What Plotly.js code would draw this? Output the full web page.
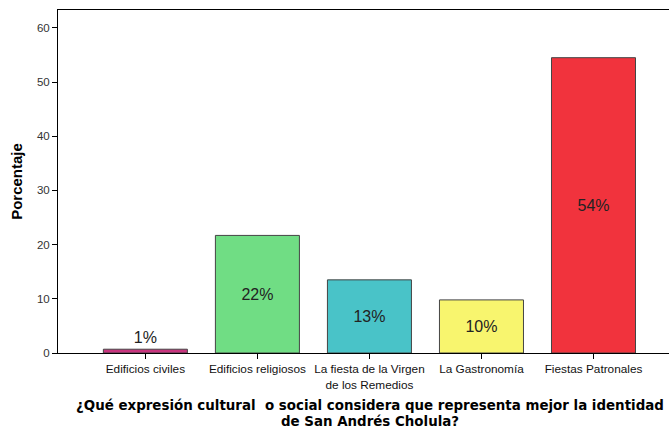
<!DOCTYPE html>
<html>
<head>
<meta charset="utf-8">
<script src="https://cdn.plot.ly/plotly-3.0.1.min.js"></script>
<style>
html,body{margin:0;padding:0;overflow:hidden;background:#fff;}
#chart{width:690px;height:429px;}
</style>
</head>
<body>
<div id="chart"></div>
<script>
const categories = ["Edificios civiles", "Edificios religiosos", "La fiesta de la Virgen<br>de los Remedios", "La Gastronomía", "Fiestas Patronales"];
const values = [0.7, 21.7, 13.5, 9.8, 54.5];
const labels = ["1%", "22%", "13%", "10%", "54%"];
const colors = ["#c8357e", "#70dd84", "#49c3c8", "#f8f56e", "#f1333d"];
const positions = ["outside", "inside", "inside", "inside", "inside"];
const xTitleLines = ["¿Qué expresión cultural  o social considera que representa mejor la identidad", "de San Andrés Cholula?"];

const trace = {
  type: "bar",
  x: categories,
  y: values,
  text: labels,
  textposition: positions,
  insidetextanchor: "middle",
  textangle: 0,
  cliponaxis: false,
  textfont: {family: "Liberation Sans, Arial, sans-serif", size: 16, color: "#222"},
  marker: {color: colors, line: {color: "#444", width: 1}},
  width: 0.75,
  hoverinfo: "none"
};

const titleFont = {family: "DejaVu Sans, Verdana, sans-serif", size: 13.4, color: "#000", weight: "bold"};
const titleY = [-0.1545, -0.1983];

const layout = {
  width: 690,
  height: 429,
  margin: {l: 58, r: 8, t: 10, b: 76},
  paper_bgcolor: "#fff",
  plot_bgcolor: "#fff",
  showlegend: false,
  bargap: 0.25,
  font: {family: "Liberation Sans, Arial, sans-serif", size: 11, color: "#000"},
  xaxis: {
    type: "category",
    range: [-0.78, 4.79],
    showline: true, linecolor: "#000", linewidth: 1, mirror: true,
    ticks: "outside", ticklen: 5, tickcolor: "#000",
    showgrid: false, zeroline: false,
    tickfont: {family: "Liberation Sans, Arial, sans-serif", size: 11.8, color: "#111"}
  },
  yaxis: {
    range: [0, 63.3],
    tickvals: [0, 10, 20, 30, 40, 50, 60],
    showline: true, linecolor: "#000", linewidth: 1, mirror: true,
    ticks: "outside", ticklen: 5, tickcolor: "#000",
    showgrid: false, zeroline: false,
    tickfont: {family: "Liberation Sans, Arial, sans-serif", size: 11.5, color: "#333"},
    title: {
      text: "Porcentaje",
      font: {family: "Liberation Sans, Arial, sans-serif", size: 15, color: "#000", weight: "bold"},
      standoff: 10
    }
  },
  annotations: xTitleLines.map((t, i) => ({
    text: t,
    xref: "paper", yref: "paper",
    x: 0.5, y: titleY[i],
    xanchor: "center", yanchor: "middle",
    showarrow: false,
    font: titleFont
  }))
};

Plotly.newPlot("chart", [trace], layout, {displayModeBar: false, staticPlot: true});
</script>
</body>
</html>
